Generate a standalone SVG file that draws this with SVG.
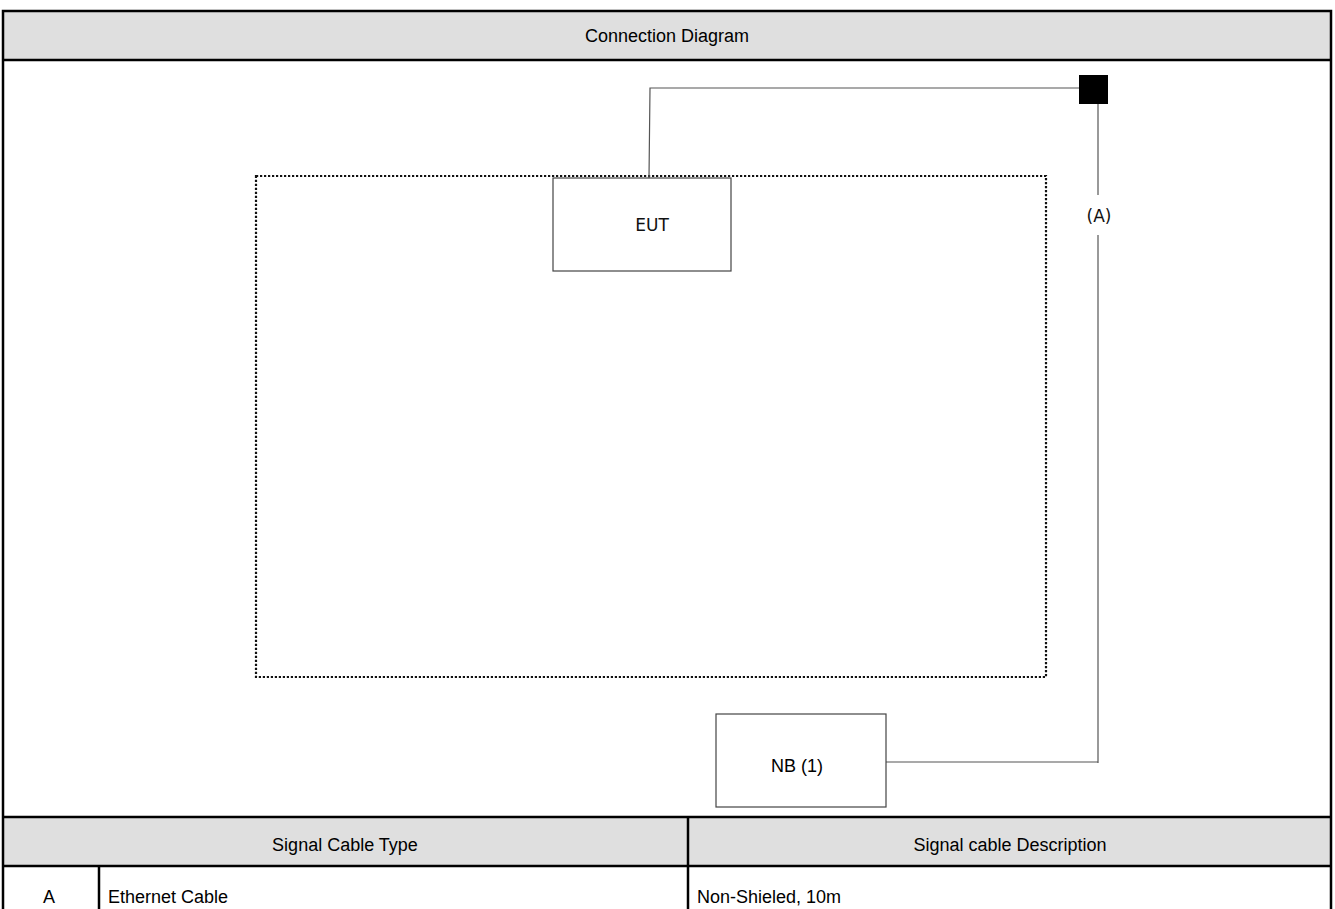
<svg xmlns="http://www.w3.org/2000/svg" width="1335" height="909" viewBox="0 0 1335 909">
<style>
.frame{fill:none;stroke:#000;stroke-width:2.5}
.hdr{fill:#dfdfdf}
.t{font-family:"Liberation Sans",Arial,sans-serif;font-size:18px;fill:#000}
.d{font-family:"DejaVu Sans",sans-serif;font-size:17px;fill:#111}
.box{fill:#fff;stroke:#444;stroke-width:1.2}
.wire{fill:none;stroke:#555;stroke-width:1.2}
</style>
<rect width="1335" height="909" fill="#fff"/>
<g id="header">
<rect class="hdr" x="3" y="11" width="1328" height="49"/>
<text class="t" x="667" y="42" text-anchor="middle">Connection Diagram</text>
</g>
<g id="table">
<rect class="hdr" x="3" y="817" width="1328" height="49"/>
<text class="t" x="345" y="851" text-anchor="middle">Signal Cable Type</text>
<text class="t" x="1010" y="851" text-anchor="middle">Signal cable Description</text>
<text class="t" x="49" y="903" text-anchor="middle">A</text>
<text class="t" x="108" y="903">Ethernet Cable</text>
<text class="t" x="697" y="903">Non-Shieled, 10m</text>
</g>
<g id="frame-lines" stroke="#000" stroke-width="2.5" fill="none">
<path d="M3 925 V11 H1331 V925"/>
<line x1="3" y1="60" x2="1331" y2="60"/>
<line x1="3" y1="817" x2="1331" y2="817"/>
<line x1="3" y1="866" x2="1331" y2="866"/>
<line x1="688" y1="817" x2="688" y2="909"/>
<line x1="99" y1="866" x2="99" y2="909"/>
</g>
<g id="area">
<rect x="256" y="176" width="790" height="501" fill="none" stroke="#111" stroke-width="2.2" stroke-dasharray="2.2,1.8"/>
</g>
<g id="connectors">
<polyline class="wire" points="649,178 650,88 1080,88"/>
<line class="wire" x1="1098" y1="104" x2="1098" y2="195"/>
<line class="wire" x1="1098" y1="235" x2="1098" y2="763"/>
<line class="wire" x1="886" y1="762" x2="1098" y2="762"/>
<text class="d" x="1099" y="222" text-anchor="middle">(A)</text>
</g>
<g id="connector-block">
<rect x="1079" y="75" width="29" height="29" fill="#000"/>
</g>
<g id="eut">
<rect class="box" x="553" y="178" width="178" height="93"/>
<text class="d" x="652" y="231" text-anchor="middle">EUT</text>
</g>
<g id="nb">
<rect class="box" x="716" y="714" width="170" height="93"/>
<text class="t" x="797" y="772" text-anchor="middle">NB (1)</text>
</g>
</svg>
